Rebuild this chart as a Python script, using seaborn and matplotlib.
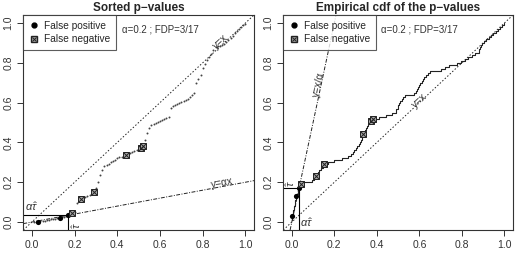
import numpy as np
import pandas as pd
import seaborn as sns
import matplotlib
matplotlib.use('Agg')
import matplotlib.pyplot as plt
from matplotlib.lines import Line2D
from matplotlib.legend_handler import HandlerTuple

# data
alpha = 0.2
m = 100
n_rej = 17
pvals = [0.0002, 0.0008, 0.0015, 0.003, 0.005, 0.007, 0.009, 0.011, 0.013, 0.015,
         0.017, 0.019, 0.021, 0.024, 0.027, 0.030, 0.033, 0.040, 0.045, 0.050,
         0.097, 0.105, 0.114, 0.120, 0.125, 0.130, 0.137, 0.145, 0.153, 0.170,
         0.200, 0.235, 0.262, 0.280, 0.286, 0.292, 0.300, 0.307, 0.314, 0.320,
         0.325, 0.329, 0.332, 0.335, 0.340, 0.345, 0.350, 0.355, 0.360, 0.366,
         0.374, 0.380, 0.410, 0.445, 0.472, 0.488, 0.492, 0.497, 0.501, 0.506,
         0.511, 0.516, 0.521, 0.530, 0.575, 0.582, 0.588, 0.594, 0.600, 0.605,
         0.610, 0.615, 0.620, 0.630, 0.640, 0.648, 0.700, 0.720, 0.740, 0.775,
         0.795, 0.812, 0.830, 0.845, 0.862, 0.878, 0.882, 0.885, 0.888, 0.892,
         0.905, 0.915, 0.925, 0.935, 0.948, 0.958, 0.968, 0.978, 0.988, 0.997]
fp_ranks = [3, 13, 17]
fn_ranks = [19, 23, 29, 44, 51, 52]

df = pd.DataFrame({'rank': np.arange(1, m + 1) / m, 'p': pvals})
df_fp = df.iloc[[r - 1 for r in fp_ranks]]
df_fn = df.iloc[[r - 1 for r in fn_ranks]]
tau = n_rej / m

sns.set_style('ticks')
plt.rcParams['font.family'] = ['Liberation Sans', 'DejaVu Sans']
plt.rcParams['mathtext.fontset'] = 'custom'
plt.rcParams['mathtext.rm'] = 'Liberation Sans'
plt.rcParams['mathtext.it'] = 'Liberation Sans:italic'

fig = plt.figure(figsize=(5.18, 2.58), dpi=100)
W, H = 518, 258
ax1 = fig.add_axes([23.3 / W, 1 - 230 / H, (254 - 23.3) / W, 215 / H])
ax2 = fig.add_axes([283.3 / W, 1 - 230 / H, (513 - 283.3) / W, 215 / H])

lw = 0.7
col = '#222222'
txt = '#333333'


def fp_fn(ax, xcol, ycol):
    sns.scatterplot(data=df_fp, x=xcol, y=ycol, ax=ax, marker='o', s=14,
                    color='black', linewidth=0, zorder=5)
    sns.scatterplot(data=df_fn, x=xcol, y=ycol, ax=ax, marker='s', s=22,
                    facecolor='#aaaaaa', edgecolor=col, linewidth=0.7, zorder=5)
    sns.scatterplot(data=df_fn, x=xcol, y=ycol, ax=ax, marker='x', s=14,
                    color=col, linewidth=0.7, zorder=6)


def decorate(ax, title):
    ax.set_xlim(-0.04, 1.04)
    ax.set_ylim(-0.04, 1.04)
    ticks = [0, 0.2, 0.4, 0.6, 0.8, 1.0]
    ax.set_xticks(ticks)
    ax.set_yticks(ticks)
    ax.set_xticklabels(['%.1f' % t for t in ticks])
    ax.set_yticklabels(['%.1f' % t for t in ticks], rotation=90, va='center')
    ax.tick_params(labelsize=7.5, length=4, width=0.7, pad=3, colors=txt)
    for s in ax.spines.values():
        s.set_visible(True)
        s.set_linewidth(0.8)
        s.set_color(txt)
    ax.set_xlabel('')
    ax.set_ylabel('')
    ax.set_title(title, fontsize=8.5, fontweight='bold', pad=3)
    ax.text(0.6, 0.99, r'α=0.2 ; FDP=3/17', fontsize=7, ha='center', va='top',
            color=txt)
    h_fp = Line2D([], [], marker='o', color='black', ls='none', ms=3.5)
    h_sq = Line2D([], [], marker='s', mfc='#aaaaaa', mec=col, ls='none', ms=4)
    h_x = Line2D([], [], marker='x', color=col, ls='none', ms=3.5, mew=0.7)
    leg = ax.legend([h_fp, (h_sq, h_x)], ['False positive', 'False negative'],
                    loc='upper left', borderaxespad=0, fontsize=7.3, frameon=True,
                    fancybox=False, edgecolor=txt, handlelength=1.0,
                    handletextpad=0.5, borderpad=0.55, labelspacing=0.35,
                    handler_map={tuple: HandlerTuple(ndivide=1)})
    leg.get_frame().set_linewidth(0.8)
    leg.set_zorder(10)


# left: sorted p-values
sns.scatterplot(data=df, x='rank', y='p', ax=ax1, s=2, color='#444444',
                linewidth=0, zorder=3)
ax1.axline((0, 0), slope=1, color=col, lw=lw, ls=(0, (1.5, 2)))
ax1.axline((0, 0), slope=alpha, color=col, lw=lw, ls=(0, (4, 1.5, 1, 1.5)))
ax1.plot([-0.04, tau], [alpha * tau, alpha * tau], color='black', lw=0.8)
ax1.plot([tau, tau], [-0.04, alpha * tau], color='black', lw=0.8)
fp_fn(ax1, 'rank', 'p')
ax1.text(0.885, 0.905, 'y=x', rotation=45, transform_rotates_text=True,
         rotation_mode='anchor', fontsize=7.5, ha='center', va='center', color=txt)
ax1.text(0.89, 0.198, 'y=αx', rotation=np.degrees(np.arctan(alpha)),
         transform_rotates_text=True, rotation_mode='anchor', fontsize=7.5,
         ha='center', va='center', color=txt)
ax1.text(-0.03, 0.045, r'$\alpha\hat{\tau}$', fontsize=8, ha='left', va='bottom',
         color=txt)
ax1.text(tau + 0.008, -0.035, r'$\hat{\tau}$', fontsize=8, rotation=90,
         ha='left', va='bottom', color=txt)
decorate(ax1, 'Sorted p−values')

# right: empirical cdf
sns.lineplot(data=df, x='p', y='rank', ax=ax2, drawstyle='steps-post',
             color=col, lw=0.8, estimator=None, zorder=3)
ax2.axline((0, 0), slope=1, color=col, lw=lw, ls=(0, (1.5, 2)))
ax2.axline((0, 0), slope=1 / alpha, color=col, lw=lw, ls=(0, (4, 1.5, 1, 1.5)))
ax2.plot([-0.04, alpha * tau], [tau, tau], color='black', lw=0.8)
ax2.plot([alpha * tau, alpha * tau], [-0.04, tau], color='black', lw=0.8)
fp_fn(ax2, 'p', 'rank')
ax2.text(0.125, 0.69, 'y=x/α', rotation=np.degrees(np.arctan(1 / alpha)),
         transform_rotates_text=True, rotation_mode='anchor', fontsize=7.5,
         ha='center', va='center', color=txt)
ax2.text(0.6, 0.61, 'y=x', rotation=45, transform_rotates_text=True,
         rotation_mode='anchor', fontsize=7.5, ha='center', va='center', color=txt)
ax2.text(-0.035, tau + 0.005, r'$\hat{\tau}$', fontsize=8, rotation=90,
         ha='left', va='bottom', color=txt)
ax2.text(alpha * tau + 0.005, -0.035, r'$\alpha\hat{\tau}$', fontsize=8,
         ha='left', va='bottom', color=txt)
decorate(ax2, 'Empirical cdf of the p−values')

fig.savefig('out.png', dpi=100)
